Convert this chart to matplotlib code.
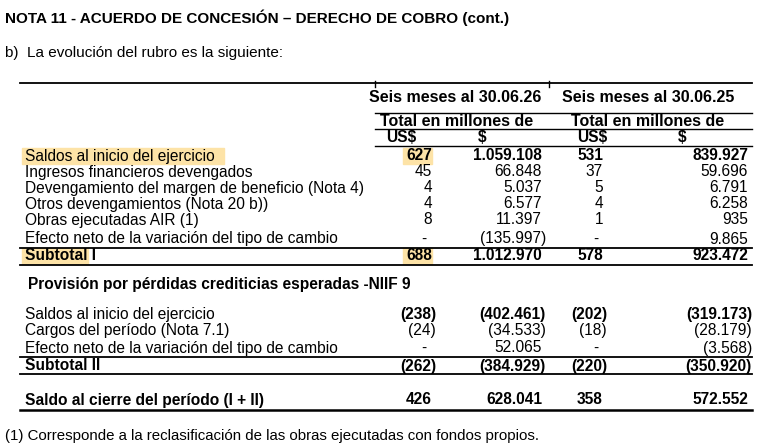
import matplotlib.pyplot as plt
from matplotlib.patches import Rectangle

FONT = ['Liberation Sans Narrow', 'Liberation Sans', 'DejaVu Sans']

title = 'NOTA 11 - ACUERDO DE CONCESIÓN – DERECHO DE COBRO (cont.)'
subtitle = 'b)  La evolución del rubro es la siguiente:'
periods = ['Seis meses al 30.06.26', 'Seis meses al 30.06.25']
currencies = ['US$', '$', 'US$', '$']

labels_1 = ['Saldos al inicio del ejercicio', 'Ingresos financieros devengados',
            'Devengamiento del margen de beneficio (Nota 4)',
            'Otros devengamientos (Nota 20 b))', 'Obras ejecutadas AIR (1)',
            'Efecto neto de la variación del tipo de cambio']
usd_26_1 = ['627', '45', '4', '4', '8', '-']
ars_26_1 = ['1.059.108', '66.848', '5.037', '6.577', '11.397', '(135.997)']
usd_25_1 = ['531', '37', '5', '4', '1', '-']
ars_25_1 = ['839.927', '59.696', '6.791', '6.258', '935', '9.865']
subtotal_1 = ['688', '1.012.970', '578', '923.472']

section_2 = 'Provisión por pérdidas crediticias esperadas -NIIF 9'
labels_2 = ['Saldos al inicio del ejercicio', 'Cargos del período (Nota 7.1)',
            'Efecto neto de la variación del tipo de cambio']
usd_26_2 = ['(238)', '(24)', '-']
ars_26_2 = ['(402.461)', '(34.533)', '52.065']
usd_25_2 = ['(202)', '(18)', '-']
ars_25_2 = ['(319.173)', '(28.179)', '(3.568)']
subtotal_2 = ['(262)', '(384.929)', '(220)', '(350.920)']
closing = ['426', '628.041', '358', '572.552']
footnote = '(1) Corresponde a la reclasificación de las obras ejecutadas con fondos propios.'

fig = plt.figure(figsize=(7.61, 4.46), dpi=100)
ax = fig.add_axes([0, 0, 1, 1])
ax.set_xlim(0, 761)
ax.set_ylim(446, 0)
ax.axis('off')

FS = 11.2
HL = '#fde3a7'
col_right = [432, 542, 603, 748]
dash_x = [427, None, 598, None]


def txt(x, y, s, bold=False, ha='left', fs=FS):
    ax.text(x, y, s, fontsize=fs, family=FONT, ha=ha, va='center',
            fontweight='bold' if bold else 'normal')


def num(col, y, s, bold=False):
    x = col_right[col]
    if s == '-':
        x = dash_x[col]
    elif s.endswith(')'):
        x += 4
    txt(x, y, s, bold=bold, ha='right')


def hline(y, x0=20, x1=752, lw=1.3):
    ax.plot([x0, x1], [y, y], color='black', lw=lw)


def highlight(x0, x1, y):
    ax.add_patch(Rectangle((x0, y - 8), x1 - x0, 16, color=HL, zorder=0))


txt(5, 18, title, bold=True, fs=11)
txt(5, 53, subtitle, fs=11)

hline(83)
for x in [375, 549]:
    ax.plot([x, x], [81, 87], color='black', lw=1)
txt(455, 98, periods[0], bold=True, ha='center', fs=11.5)
txt(648, 98, periods[1], bold=True, ha='center', fs=11.5)
hline(113, 375, 752, lw=1)
txt(457, 121, 'Total en millones de', bold=True, ha='center', fs=11.5)
txt(648, 121, 'Total en millones de', bold=True, ha='center', fs=11.5)
hline(129, 375, 752, lw=1)
for x, c in zip([386, 478, 577, 678], currencies):
    txt(x, 137, c, bold=True)
hline(146, 375, 752, lw=1)

rows_y = [156, 172, 188, 204, 220, 239]
highlight(22, 224, rows_y[0])
highlight(403, 432, rows_y[0])
for i, y in enumerate(rows_y):
    bold = i == 0
    txt(25, y, labels_1[i], bold=False)
    num(0, y, usd_26_1[i], bold)
    num(1, y, ars_26_1[i], bold)
    num(2, y, usd_25_1[i], bold)
    num(3, y, ars_25_1[i], bold)

hline(248)
highlight(22, 88, 256)
highlight(403, 432, 256)
txt(25, 256, 'Subtotal I', bold=True)
for c, s in enumerate(subtotal_1):
    num(c, 256, s, bold=True)
hline(265)

txt(28, 285, section_2, bold=True)
for i, y in enumerate([315, 331, 348]):
    bold = i == 0
    txt(25, y, labels_2[i])
    num(0, y, usd_26_2[i], bold)
    num(1, y, ars_26_2[i], bold)
    num(2, y, usd_25_2[i], bold)
    num(3, y, ars_25_2[i], bold)

hline(357)
txt(25, 366, 'Subtotal II', bold=True)
for c, s in enumerate(subtotal_2):
    num(c, 366, s, bold=True)
hline(374)

txt(25, 400, 'Saldo al cierre del período (I + II)', bold=True)
for c, s in enumerate(closing):
    num(c, 400, s, bold=True)
hline(410, lw=1.8)

txt(5, 436, footnote, fs=10.8)

fig.savefig('out.png', dpi=100)
